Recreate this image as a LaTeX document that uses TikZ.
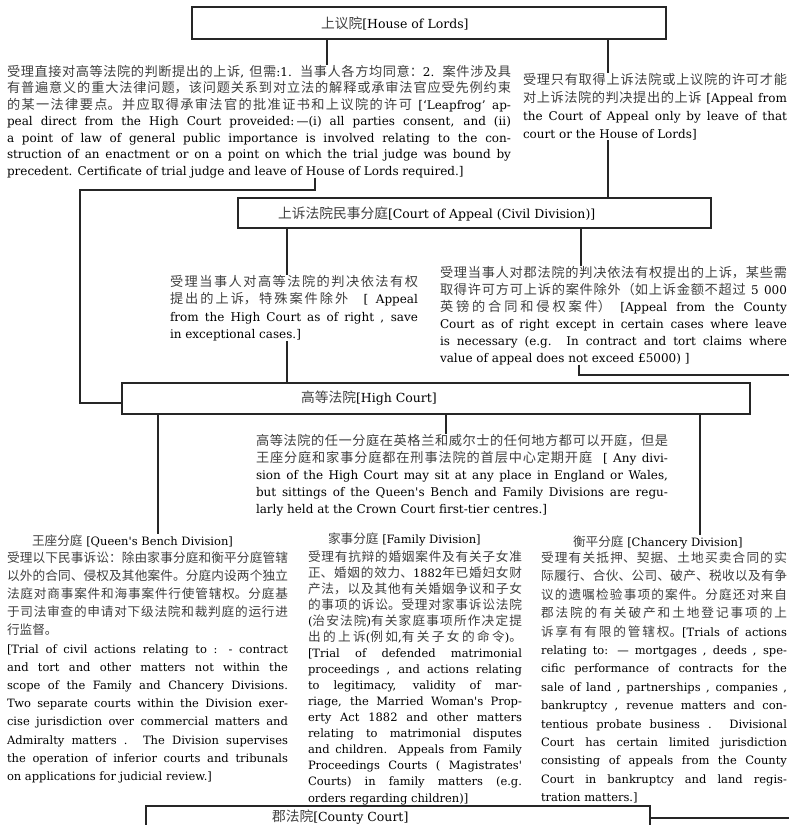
\documentclass[tikz,border=0pt]{standalone}
\usepackage{fontspec}
\setmainfont{DejaVu Serif}
\newfontfamily\latfam{DejaVu Serif}
\newfontfamily\cjkfam{Noto Sans CJK SC}[Scale=1.1]
\definecolor{cjkc}{gray}{0.25}
\newcommand\cjksw{\cjkfam\color{cjkc}}
\newcommand\latsw{\latfam\color{black}}
\newcommand\lb{\linebreak\relax}
\XeTeXlinebreaklocale "zh"
\XeTeXlinebreakskip=0pt plus 1pt minus 0.1pt
\newXeTeXintercharclass\CJKcls
\newcount\cjkcnt
\def\cjkrange#1#2{\cjkcnt=#1 \loop\ifnum\cjkcnt<#2 \XeTeXcharclass\cjkcnt=\CJKcls\advance\cjkcnt by 1 \repeat}
\cjkrange{"4E00}{"A000}
\cjkrange{"3000}{"3040}
\cjkrange{"FF00}{"FFF0}
\XeTeXinterchartoks 0 \CJKcls = {\cjksw}
\XeTeXinterchartoks 4095 \CJKcls = {\cjksw}
\XeTeXinterchartoks \CJKcls 0 = {\latsw}
\XeTeXinterchartoks \CJKcls 4095 = {\latsw}
\XeTeXinterchartokenstate=1
\tolerance=10000
\hbadness=10000
\hyphenpenalty=10000
\exhyphenpenalty=10000
\tikzset{
  conn/.style={draw=black!85, line width=1.1pt},
  box/.style={draw=black!85, line width=1.2pt, inner sep=0pt, outer sep=0pt, anchor=north west},
  txt/.style={inner sep=0pt, outer sep=0pt, anchor=base west, align=justify},
  lbl/.style={inner sep=0pt, outer sep=0pt, anchor=base west, font=\fontsize{12.5pt}{14pt}\selectfont},
  sublbl/.style={inner sep=0pt, outer sep=0pt, anchor=base west, font=\fontsize{11.5pt}{14pt}\selectfont}
}
\begin{document}
\begin{tikzpicture}[x=1pt,y=-1pt]
\useasboundingbox (0,0) rectangle (789,825);
\clip (0,0) rectangle (789,825);

% boxes
\node[box, minimum width=474pt, minimum height=32pt] (hol) at (192,7) {};
\node[box, minimum width=473pt, minimum height=30pt] (coa) at (238,198) {};
\node[box, minimum width=628pt, minimum height=31pt] (hc) at (122,383) {};
\node[box, minimum width=504pt, minimum height=40pt] (cc) at (146,806) {};

% box labels
\node[lbl] (holt) at (321,28) {上议院[House of Lords]};
\node[lbl] (coat) at (278,218) {上诉法院民事分庭[Court of Appeal (Civil Division)]};
\node[lbl] (hct) at (301,402) {高等法院[High Court]};
\node[lbl] (cct) at (272,821) {郡法院[County Court]};

% texts
\node[txt, text width=504pt, font=\fontsize{12pt}{16.5pt}\selectfont] (tl) at (7,76)
{受理直接对高等法院的判断提出的上诉, 但需:1. 当事人各方均同意：2. 案件涉及具\lb
有普遍意义的重大法律问题，该问题关系到对立法的解释或承审法官应受先例约束\lb
的某一法律要点。并应取得承审法官的批准证书和上议院的许可\ [‘Leapfrog’ ap-\lb
peal direct from the High Court proveided:—(i) all parties consent, and (ii)\lb
a point of law of general public importance is involved relating to the con-\lb
struction of an enactment or on a point on which the trial judge was bound by\lb
precedent. Certificate of trial judge and leave of House of Lords required.]};

\node[txt, text width=264pt, font=\fontsize{12pt}{18.3pt}\selectfont] (tr) at (523,84)
{受理只有取得上诉法院或上议院的许可才能\lb
对上诉法院的判决提出的上诉\ [Appeal from\lb
the Court of Appeal only by leave of that\lb
court or the House of Lords]};

\node[txt, text width=248pt, font=\fontsize{12pt}{17.6pt}\selectfont] (ml) at (170,286)
{受理当事人对高等法院的判决依法有权\lb
提出的上诉，特殊案件除外\ \ [ Appeal\lb
from the High Court as of right , save\lb
in exceptional cases.]};

\node[txt, text width=347pt, font=\fontsize{12pt}{17pt}\selectfont] (mr) at (440,277)
{受理当事人对郡法院的判决依法有权提出的上诉，某些需\lb
取得许可方可上诉的案件除外（如上诉金额不超过\ 5~000\lb
英镑的合同和侵权案件）\ [Appeal from the County\lb
Court as of right except in certain cases where leave\lb
is necessary (e.g. In contract and tort claims where\lb
value of appeal does not exceed £5000) ]};

\node[txt, text width=412pt, font=\fontsize{12pt}{17pt}\selectfont] (hn) at (256,445)
{高等法院的任一分庭在英格兰和威尔士的任何地方都可以开庭，但是\lb
王座分庭和家事分庭都在刑事法院的首层中心定期开庭\ \ [ Any divi-\lb
sion of the High Court may sit at any place in England or Wales,\lb
but sittings of the Queen's Bench and Family Divisions are regu-\lb
larly held at the Crown Court first-tier centres.]};

\node[sublbl] (qbt) at (32,545) {王座分庭\ [Queen's Bench Division]};
\node[txt, text width=281pt, font=\fontsize{11.5pt}{18.2pt}\selectfont] (qb) at (7,562)
{受理以下民事诉讼：除由家事分庭和衡平分庭管辖\lb
以外的合同、侵权及其他案件。分庭内设两个独立\lb
法庭对商事案件和海事案件行使管辖权。分庭基\lb
于司法审查的申请对下级法院和裁判庭的运行进\lb
行监督。\newline\relax
[Trial of civil actions relating to : - contract\lb
and tort and other matters not within the\lb
scope of the Family and Chancery Divisions.\lb
Two separate courts within the Division exer-\lb
cise jurisdiction over commercial matters and\lb
Admiralty matters . The Division supervises\lb
the operation of inferior courts and tribunals\lb
on applications for judicial review.]};

\node[sublbl] (fdt) at (328,543) {家事分庭\ [Family Division]};
\node[txt, text width=214pt, font=\fontsize{11.5pt}{16.07pt}\selectfont] (fd) at (308,561)
{受理有抗辩的婚姻案件及有关子女准\lb
正、婚姻的效力、1882年已婚妇女财\lb
产法，以及其他有关婚姻争议和子女\lb
的事项的诉讼。受理对家事诉讼法院\lb
(治安法院)有关家庭事项所作决定提\lb
出的上诉(例如,有关子女的命令)。\lb
[Trial of defended matrimonial\lb
proceedings , and actions relating\lb
to legitimacy, validity of mar-\lb
riage, the Married Woman's Prop-\lb
erty Act 1882 and other matters\lb
relating to matrimonial disputes\lb
and children. Appeals from Family\lb
Proceedings Courts ( Magistrates'\lb
Courts) in family matters (e.g.\lb
orders regarding children)]};

\node[sublbl] (cht) at (573,546) {衡平分庭\ [Chancery Division]};
\node[txt, text width=246pt, font=\fontsize{11.5pt}{18.4pt}\selectfont] (ch) at (541,562.5)
{受理有关抵押、契据、土地买卖合同的实\lb
际履行、合伙、公司、破产、税收以及有争\lb
议的遗嘱检验事项的案件。分庭还对来自\lb
郡法院的有关破产和土地登记事项的上\lb
诉享有有限的管辖权。[Trials of actions\lb
relating to: — mortgages , deeds , spe-\lb
cific performance of contracts for the\lb
sale of land , partnerships , companies ,\lb
bankruptcy , revenue matters and con-\lb
tentious probate business . Divisional\lb
Court has certain limited jurisdiction\lb
consisting of appeals from the County\lb
Court in bankruptcy and land regis-\lb
tration matters.]};

% connectors
\coordinate (k1) at (315,190);
\coordinate (k2) at (80,403);
\coordinate (e1) at (789,375);
\coordinate (e2) at (789,818);
\draw[conn] (hol.south -| 327,0) -- (tl.north -| 327,0);
\draw[conn] (hol.south -| 608,0) -- (tr.north -| 608,0);
\draw[conn] (tr.south -| 608,0) -- (coa.north -| 608,0);
\draw[conn] (tl.south -| k1) -- (k1) -| (k2) -- (hc.west |- k2);
\draw[conn] (coa.south -| 287,0) -- (ml.north -| 287,0);
\draw[conn] (coa.south -| 581,0) -- (mr.north -| 581,0);
\draw[conn] (ml.south -| 287,0) -- (hc.north -| 287,0);
\draw[conn] (mr.south -| 579,0) -- (e1 -| 579,0) -- (e1);
\draw[conn] (hc.south -| 158,0) -- (qbt.north -| 158,0);
\draw[conn] (hc.south -| 446,0) -- (hn.north -| 446,0);
\draw[conn] (hc.south -| 700,0) -- (cht.north -| 700,0);
\draw[conn] (cc.east |- e2) -- (e2);
\end{tikzpicture}
\end{document}
